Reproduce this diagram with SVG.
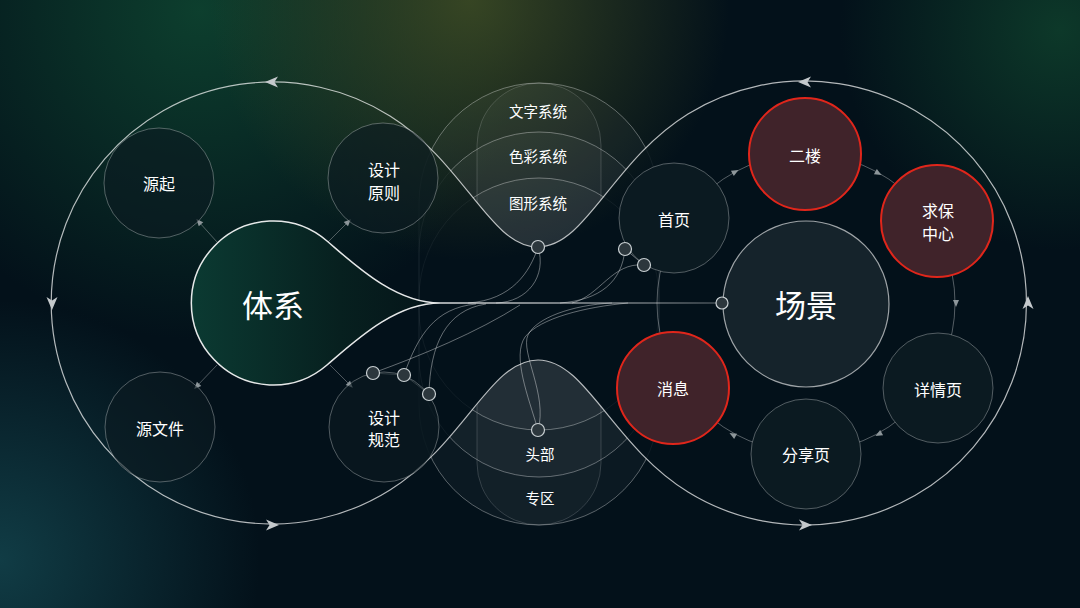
<svg xmlns="http://www.w3.org/2000/svg" width="1080" height="608" viewBox="0 0 1080 608">
<defs>
<radialGradient id="g1" cx="200" cy="10" r="330" gradientUnits="userSpaceOnUse"><stop offset="0" stop-color="#0e4430" stop-opacity="0.9"/><stop offset="1" stop-color="#0e4430" stop-opacity="0"/></radialGradient>
<radialGradient id="g2" cx="470" cy="0" r="260" gradientUnits="userSpaceOnUse"><stop offset="0" stop-color="#3c4a24" stop-opacity="0.9"/><stop offset="1" stop-color="#3c4a24" stop-opacity="0"/></radialGradient>
<radialGradient id="g3" cx="1060" cy="30" r="220" gradientUnits="userSpaceOnUse"><stop offset="0" stop-color="#0e3d2b" stop-opacity="0.9"/><stop offset="1" stop-color="#0e3d2b" stop-opacity="0"/></radialGradient>
<radialGradient id="g4" cx="0" cy="560" r="260" gradientUnits="userSpaceOnUse"><stop offset="0" stop-color="#12414a" stop-opacity="0.9"/><stop offset="1" stop-color="#12414a" stop-opacity="0"/></radialGradient>
<linearGradient id="tear" x1="0" y1="0" x2="1" y2="0"><stop offset="0" stop-color="#0b3a32"/><stop offset="0.6" stop-color="#07201f"/><stop offset="1" stop-color="#051419"/></linearGradient>
<linearGradient id="spine" x1="440" y1="0" x2="722" y2="0" gradientUnits="userSpaceOnUse"><stop offset="0" stop-color="#ffffff" stop-opacity="0.85"/><stop offset="1" stop-color="#ffffff" stop-opacity="0.25"/></linearGradient>
<clipPath id="midclip"><path clip-rule="evenodd" d="M380,0 H700 V608 H380 Z M390,116 C465,163 490,247 538,247 C586,247 612,161 688,114 L688,492 C612,445 586,360 538,360 C490,360 465,443 390,490 Z"/></clipPath>
<path id="chev" d="M7,0 L-6,-5.5 L-2.5,0 L-6,5.5 Z"/>
<path id="tri" d="M4,0 L-3,-3 L-3,3 Z"/>
</defs>
<style>
text{font-family:"Noto Sans CJK SC","Noto Sans",sans-serif;fill:#ffffff;text-anchor:middle;dominant-baseline:central}
.lbl{font-size:16px}
.mid{font-size:14.5px}
.big{font-size:31px}
.node{fill:#0b1a21;stroke:#ffffff;stroke-opacity:0.3;stroke-width:1}
.red{fill:#40232a;stroke:#e0261b;stroke-width:2}
.conn{fill:none;stroke:#ffffff;stroke-opacity:0.38;stroke-width:1}
.spoke{fill:none;stroke:#ffffff;stroke-opacity:0.3;stroke-width:1}
.dot{fill:#2c373d;stroke:#c9d0d3;stroke-width:1.2}
.stad{fill:#ffffff;fill-opacity:0.035;stroke:#ffffff;stroke-opacity:0.3;stroke-width:1}
.pill{fill:#ffffff;fill-opacity:0.03;stroke:#ffffff;stroke-opacity:0.16;stroke-width:1}
.stadf{fill:none;stroke:#ffffff;stroke-opacity:0.05;stroke-width:1}
.ah{fill:#c4c9cc}
.sah{fill:#8e979b}
</style>
<rect width="1080" height="608" fill="#03111a"/>
<rect width="1080" height="608" fill="url(#g1)"/>
<rect width="1080" height="608" fill="url(#g2)"/>
<rect width="1080" height="608" fill="url(#g3)"/>
<rect width="1080" height="608" fill="url(#g4)"/>

<g id="middle-stack">
<g clip-path="url(#midclip)">
<rect class="stad" x="419" y="83" width="240" height="442" rx="120"/>
<rect class="stad" x="419" y="132" width="240" height="345" rx="120"/>
<rect class="stad" x="419" y="178" width="240" height="252" rx="120"/>
<rect class="pill" x="477" y="83" width="124" height="442" rx="62"/>
</g>
<rect class="stadf" x="419" y="83" width="240" height="442" rx="120"/>
<rect class="stadf" x="419" y="132" width="240" height="345" rx="120"/>
<rect class="stadf" x="419" y="178" width="240" height="252" rx="120"/>
</g>

<g id="outer-loop">
<path d="M390,116 A221 221 0 1 0 390,490 C465,443 490,360 538,360 C586,360 612,445 688,492 A222 222 0 1 0 688,114 C612,161 586,247 538,247 C490,247 465,163 390,116 Z" fill="none" stroke="#ffffff" stroke-opacity="0.7" stroke-width="1.2"/>
<use href="#chev" class="ah" transform="translate(272,82) rotate(180)"/>
<use href="#chev" class="ah" transform="translate(52,303) rotate(90)"/>
<use href="#chev" class="ah" transform="translate(272,525)"/>
<use href="#chev" class="ah" transform="translate(805,82) rotate(180)"/>
<use href="#chev" class="ah" transform="translate(1028,303) rotate(-90)"/>
<use href="#chev" class="ah" transform="translate(805,525)"/>
</g>

<g id="connectors">
<path d="M217,242 L199,222" class="spoke"/>
<path d="M328,242 L348,222" class="spoke"/>
<path d="M217,365 L197,386" class="spoke"/>
<path d="M330,365 L350,385" class="spoke"/>
<use href="#tri" class="sah" transform="translate(199,222) rotate(-132)"/>
<use href="#tri" class="sah" transform="translate(348,222) rotate(-45)"/>
<use href="#tri" class="sah" transform="translate(197,386) rotate(134)"/>
<use href="#tri" class="sah" transform="translate(350,385) rotate(45)"/>
<circle cx="806" cy="303" r="149" fill="none" stroke="#ffffff" stroke-opacity="0.32" stroke-width="1"/>
<use href="#tri" class="sah" transform="translate(735,172) rotate(-28.5)"/>
<use href="#tri" class="sah" transform="translate(878,173) rotate(29)"/>
<use href="#tri" class="sah" transform="translate(956,303) rotate(90)"/>
<use href="#tri" class="sah" transform="translate(879,434) rotate(151)"/>
<use href="#tri" class="sah" transform="translate(733,435) rotate(209)"/>
<path d="M440,303 H722" fill="none" stroke="url(#spine)" stroke-width="1.6"/>
<path class="conn" d="M538,247 C530,272 512,300 468,303"/>
<path class="conn" d="M538,247 C547,276 528,302 496,303"/>
<path class="conn" d="M373,373 C420,356 478,332 520,305"/>
<path class="conn" d="M404,375 C418,335 435,308 476,304"/>
<path class="conn" d="M429,394 C430,345 446,310 486,304"/>
<path class="conn" d="M373,373 L404,375 L429,394"/>
<path class="conn" d="M625,249 C622,282 600,300 560,303"/>
<path class="conn" d="M644,265 C612,262 600,296 572,303"/>
<path class="conn" d="M625,249 L644,265"/>
<path class="conn" d="M538,430 C548,395 520,352 528,335 C536,318 572,305 612,303"/>
<path class="conn" d="M538,430 C528,396 512,356 525,337 C540,318 585,307 628,303"/>
</g>

<g id="n-tixi">
<path d="M440,303 C395,303 355,265 327,241 A82 82 0 1 0 327,365 C355,341 395,303 440,303 Z" fill="url(#tear)" stroke="#ffffff" stroke-opacity="0.9" stroke-width="1.5"/>
<text class="big" x="273" y="303">体系</text>
</g>
<g id="n-yuanqi"><circle class="node" cx="159" cy="183" r="55" fill-opacity="0.6"/><text class="lbl" x="159" y="183">源起</text></g>
<g id="n-sjyz"><circle class="node" cx="383" cy="178" r="55" fill-opacity="0.6"/><text class="lbl" x="384" y="169">设计</text><text class="lbl" x="384" y="192">原则</text></g>
<g id="n-yuanwenjian"><circle class="node" cx="160" cy="427" r="55" fill-opacity="0.6"/><text class="lbl" x="160" y="428">源文件</text></g>
<g id="n-sjgf"><circle class="node" cx="384" cy="427" r="55" fill-opacity="0.6"/><text class="lbl" x="384" y="417">设计</text><text class="lbl" x="384" y="439">规范</text></g>

<g id="n-wenzi"><text class="mid" x="538" y="110">文字系统</text></g>
<g id="n-secai"><text class="mid" x="538" y="155">色彩系统</text></g>
<g id="n-tuxing"><text class="mid" x="538" y="202">图形系统</text></g>
<g id="n-toubu"><text class="mid" x="540" y="453">头部</text></g>
<g id="n-zhuanqu"><text class="mid" x="540" y="497">专区</text></g>

<g id="n-shouye"><circle class="node" cx="674" cy="218" r="55"/><text class="lbl" x="674" y="219">首页</text></g>
<g id="n-changjing"><circle cx="806" cy="304" r="83" fill="#15232b" stroke="#ffffff" stroke-opacity="0.6" stroke-width="1.2"/><text class="big" x="806" y="303">场景</text></g>
<g id="n-erlou"><circle class="red" cx="805" cy="154" r="56"/><text class="lbl" x="805" y="155">二楼</text></g>
<g id="n-qiubao"><circle class="red" cx="937" cy="221" r="56"/><text class="lbl" x="938" y="210">求保</text><text class="lbl" x="938" y="233">中心</text></g>
<g id="n-xiangqing"><circle class="node" cx="938" cy="388" r="55"/><text class="lbl" x="938" y="389">详情页</text></g>
<g id="n-fenxiang"><circle class="node" cx="806" cy="454" r="55"/><text class="lbl" x="806" y="454">分享页</text></g>
<g id="n-xiaoxi"><circle class="red" cx="673" cy="388" r="56"/><text class="lbl" x="673" y="388">消息</text></g>

<g id="dots">
<circle class="dot" cx="538" cy="247" r="6.5"/>
<circle class="dot" cx="538" cy="430" r="6.5"/>
<circle class="dot" cx="625" cy="249" r="6.5"/>
<circle class="dot" cx="644" cy="265" r="6.5"/>
<circle class="dot" cx="722" cy="303" r="6"/>
<circle class="dot" cx="373" cy="373" r="6.5"/>
<circle class="dot" cx="404" cy="375" r="6.5"/>
<circle class="dot" cx="429" cy="394" r="6.5"/>
</g>
</svg>
